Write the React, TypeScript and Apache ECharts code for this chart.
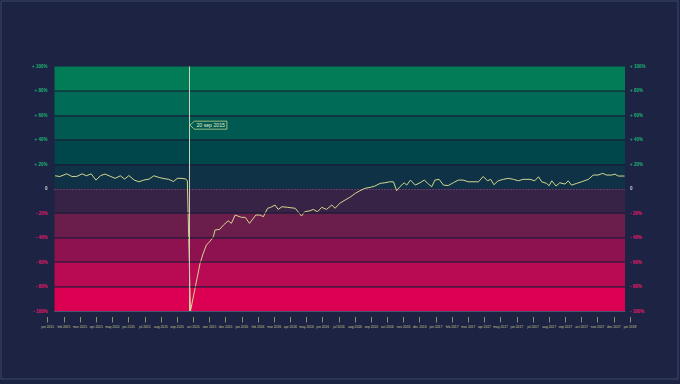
import React, { useEffect, useRef } from "react";
import * as echarts from "echarts";

// ---- data ----
const MONTHS = ["jan", "feb", "mar", "apr", "may", "jun", "jul", "aug", "sep", "oct", "nov", "dec"];
const YEARS = [2015, 2016, 2017];
const monthLabels: string[] = [];
YEARS.forEach((y) => MONTHS.forEach((m) => monthLabels.push(`${m} ${y}`)));
monthLabels.push("jan 2018");

const dates = [
  "2015-01-11", "2015-01-20", "2015-02-02", "2015-02-12", "2015-02-21", "2015-03-03", "2015-03-11", "2015-03-20",
  "2015-03-29", "2015-04-07", "2015-04-15", "2015-04-24", "2015-05-04", "2015-05-14", "2015-05-22", "2015-05-30",
  "2015-06-09", "2015-06-18", "2015-06-27", "2015-07-07", "2015-07-16", "2015-07-26", "2015-08-04", "2015-08-13",
  "2015-08-22", "2015-08-29", "2015-09-07", "2015-09-14", "2015-09-17", "2015-09-23", "2015-10-01", "2015-10-11",
  "2015-10-17", "2015-10-23", "2015-10-30", "2015-11-05", "2015-11-08", "2015-11-17", "2015-11-24", "2015-12-03",
  "2015-12-09", "2015-12-16", "2015-12-28", "2016-01-04", "2016-01-12", "2016-01-24", "2016-02-01", "2016-02-07",
  "2016-02-15", "2016-02-21", "2016-02-29", "2016-03-06", "2016-03-13", "2016-03-24", "2016-04-07", "2016-04-19",
  "2016-04-25", "2016-05-05", "2016-05-11", "2016-05-19", "2016-05-27", "2016-06-05", "2016-06-15", "2016-06-21",
  "2016-06-30", "2016-07-10", "2016-07-19", "2016-07-29", "2016-08-07", "2016-08-16", "2016-08-26", "2016-09-04",
  "2016-09-14", "2016-09-23", "2016-10-02", "2016-10-09", "2016-10-15", "2016-10-21", "2016-10-29", "2016-11-03",
  "2016-11-10", "2016-11-19", "2016-11-28", "2016-12-06", "2016-12-14", "2016-12-20", "2016-12-26", "2017-01-03",
  "2017-01-11", "2017-01-20", "2017-01-30", "2017-02-08", "2017-02-17", "2017-02-27", "2017-03-18", "2017-03-27",
  "2017-04-04", "2017-04-10", "2017-04-16", "2017-04-24", "2017-05-04", "2017-05-13", "2017-05-23", "2017-06-01",
  "2017-06-10", "2017-06-23", "2017-07-02", "2017-07-09", "2017-07-15", "2017-07-24", "2017-07-29", "2017-08-03",
  "2017-08-11", "2017-08-18", "2017-08-28", "2017-09-03", "2017-09-09", "2017-09-19", "2017-09-28", "2017-10-11",
  "2017-10-20", "2017-10-29", "2017-11-07", "2017-11-14", "2017-11-24", "2017-11-30", "2017-12-06", "2017-12-18",
];

const values = [
  10.6, 10.0, 12.2, 10.0, 10.1, 12.2, 10.6, 12.2,
  7.1, 10.8, 12.0, 10.4, 8.5, 10.6, 7.9, 10.8,
  7.1, 5.7, 7.1, 7.9, 10.6, 9.2, 8.3, 7.7,
  5.9, 8.5, 8.5, 7.9, 6.7, -100, -82.6, -61,
  -52.8, -46, -42.8, -39.3, -33.8, -33.2, -29.7, -26.2,
  -28.3, -21.5, -23.4, -23.4, -28.3, -21.5, -21.5, -22.9,
  -16, -15.2, -13.3, -16.9, -14.7, -15.2, -16, -22.3,
  -18.8, -18, -16.9, -18.8, -15.2, -16.9, -13.3, -16,
  -11.9, -9.2, -7.0, -3.8, -1.6, 0.3, 1.1, 2.2,
  4.4, 4.9, 5.7, 5.7, -1.6, 1.6, 4.9, 3.0,
  7.1, 3.0, 4.9, 7.1, 3.8, 1.6, 7.1, 7.7,
  3.0, 2.6, 5.0, 7.1, 7.1, 5.7, 5.7, 10.0,
  6.5, 7.7, 3.3, 6.5, 7.7, 8.5, 7.7, 6.5,
  7.7, 7.7, 6.5, 9.8, 5.7, 4.4, 2.5, 6.5,
  2.2, 4.9, 3.8, 6.5, 3.0, 4.4, 5.7, 7.7,
  11.2, 11.2, 12.6, 11.2, 11.2, 12.0, 10.4, 10.4,
];

const bandEdges = [100, 80, 60, 40, 20, 0, -20, -40, -60, -80, -100];
const bandColors = [
  "#007d57", "#006b56", "#005a52", "#00474b", "#0f3246",
  "#372346", "#6b1d4c", "#8f1250", "#b90a54", "#dc0052",
];

const markerText = "20 sep 2015";

// ---- styles ----
const BG = "#1c2343";
const FONT = "Liberation Sans, Arial, sans-serif";
const LINE_COLOR = "#d2d78e";

function yLabel(v: number) {
  if (v > 0) return `+ ${v}%`;
  if (v < 0) return `- ${-v}%`;
  return "0";
}
function yColor(v: any) {
  const n = Number(v);
  if (n > 0) return "#1db474";
  if (n < 0) return "#e8176c";
  return "#d0d0d8";
}

export default function App() {
  const ref = useRef<HTMLDivElement>(null);

  useEffect(() => {
    if (!ref.current) return;
    const chart = echarts.init(ref.current, null, { renderer: "svg", width: 680, height: 384 });
    const seriesData = dates.map((d, i) => [d, values[i]]);

    const xMin = new Date(2015, 0, 10).getTime();
    const xMax = new Date(2017, 11, 18, 19, 12).getTime();
    const markerTime = new Date(2015, 8, 20).getTime();

    const yAxisCommon = {
      type: "value",
      gridIndex: 0,
      min: -100,
      max: 100,
      interval: 20,
      splitLine: { show: false },
      axisLine: { show: false },
      axisTick: { show: false },
    };

    chart.setOption({
      animation: false,
      backgroundColor: BG,
      textStyle: { fontFamily: FONT },
      grid: [
        { left: 54.5, width: 570.5, top: 66.5, height: 244.5 },
        { left: 47.7, right: 50, top: 300, height: 17 },
      ],
      xAxis: [
        {
          type: "time",
          gridIndex: 0,
          min: xMin,
          max: xMax,
          axisLabel: { show: false },
          axisTick: { show: false },
          splitLine: { show: false },
          axisLine: { show: true, onZero: false, lineStyle: { color: "#4b5270", width: 1 } },
        },
        {
          type: "category",
          gridIndex: 1,
          data: monthLabels,
          boundaryGap: false,
          axisLine: { show: false },
          axisTick: { show: true, length: 5.5, interval: 0, lineStyle: { color: "#8d8c70", width: 1 } },
          axisLabel: { interval: 0, fontSize: 3.3, color: "#c8c890", margin: 8, fontFamily: FONT },
          splitLine: { show: false },
        },
      ],
      yAxis: [
        {
          ...yAxisCommon,
          position: "left",
          axisLabel: {
            formatter: yLabel,
            fontSize: 4.5,
            fontWeight: "bold",
            margin: 7,
            color: yColor,
            fontFamily: FONT,
          },
        },
        {
          ...yAxisCommon,
          position: "right",
          axisLabel: {
            formatter: yLabel,
            fontSize: 4.5,
            fontWeight: "bold",
            margin: 5,
            color: yColor,
            fontFamily: FONT,
          },
        },
        { type: "value", gridIndex: 1, show: false },
      ],
      series: [
        {
          type: "line",
          xAxisIndex: 0,
          yAxisIndex: 0,
          data: seriesData,
          symbol: "none",
          silent: true,
          z: 1,
          lineStyle: { opacity: 0, width: 0 },
          markArea: {
            silent: true,
            data: bandColors.map((c, i) => [
              { yAxis: bandEdges[i + 1], itemStyle: { color: c } },
              { yAxis: bandEdges[i] },
            ]),
          },
        },
        {
          type: "line",
          xAxisIndex: 0,
          yAxisIndex: 0,
          data: seriesData,
          symbol: "none",
          silent: true,
          z: 2,
          lineStyle: { opacity: 0, width: 0 },
          markLine: {
            silent: true,
            symbol: ["none", "none"],
            label: { show: false },
            data: [
              ...bandEdges
                .filter((e) => e !== 0 && Math.abs(e) !== 100)
                .map((e) => ({
                  yAxis: e,
                  lineStyle: { color: "rgba(22,28,55,0.55)", width: 2, type: "solid" },
                })),
              { yAxis: 0, lineStyle: { color: "rgba(190,150,190,0.55)", width: 1, type: [1, 2] } },
            ],
          },
        },
        {
          type: "line",
          xAxisIndex: 0,
          yAxisIndex: 0,
          data: seriesData,
          symbol: "none",
          z: 3,
          lineStyle: { color: LINE_COLOR, width: 1 },
          markLine: {
            silent: true,
            symbol: ["none", "none"],
            label: { show: false },
            lineStyle: { color: "#cfcdb5", width: 1, type: "solid" },
            data: [{ xAxis: markerTime }],
          },
        },
      ],
    });

    const pt = chart.convertToPixel({ seriesIndex: 2 }, [markerTime, 52]) as number[];
    const tagX = pt && isFinite(pt[0]) ? pt[0] : 189;
    const tagY = pt && isFinite(pt[1]) ? pt[1] : 125;

    chart.setOption({
      graphic: [
        {
          type: "polygon",
          x: tagX + 1,
          y: tagY,
          z: 20,
          silent: true,
          shape: { points: [[0, 0], [4.5, -4], [37, -4], [37, 4], [4.5, 4]] },
          style: { fill: "rgba(0,0,0,0)", stroke: "#c6d38a", lineWidth: 0.8 },
        },
        {
          type: "text",
          x: tagX + 7.5,
          y: tagY,
          z: 21,
          silent: true,
          style: {
            text: markerText,
            fontSize: 5.2,
            fill: "#e4ecc4",
            fontFamily: FONT,
            verticalAlign: "middle",
            align: "left",
          },
        },
        {
          type: "rect",
          shape: { x: 1, y: 1, width: 677, height: 378 },
          style: { fill: "none", stroke: "rgba(150,160,195,0.3)", lineWidth: 1 },
          silent: true,
          z: 0,
        },
      ],
    });

    return () => chart.dispose();
  }, []);

  return (
    <div
      ref={ref}
      style={{ position: "absolute", left: 0, top: 0, width: 680, height: 384 }}
    />
  );
}
